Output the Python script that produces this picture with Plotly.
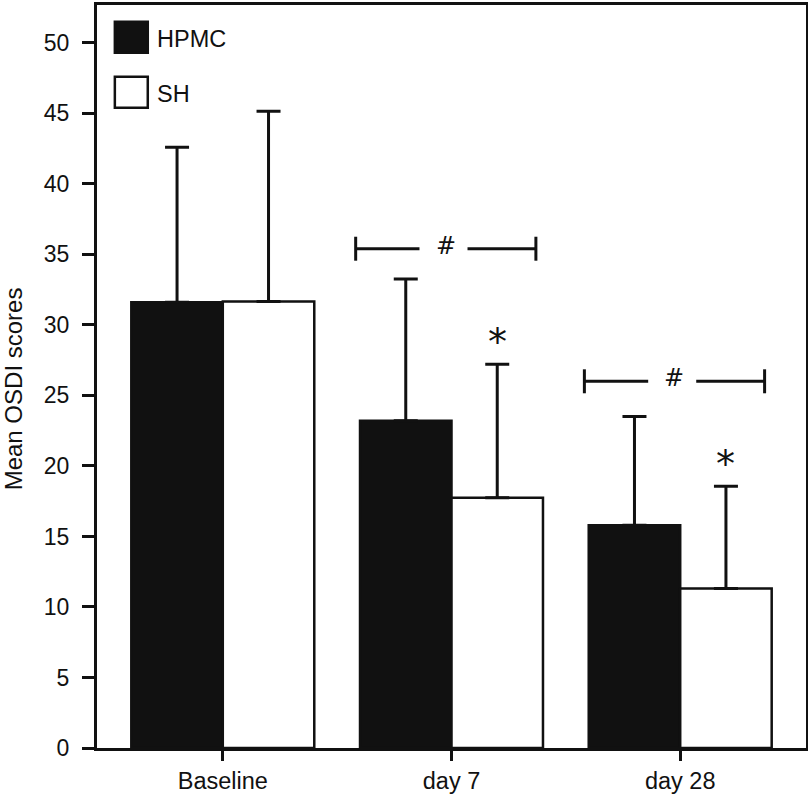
import plotly.graph_objects as go

# ---- data ----
categories = ["Baseline", "day 7", "day 28"]
hpmc_mean = [31.6, 23.2, 15.8]
hpmc_err = [11.0, 10.05, 7.7]
sh_mean = [31.65, 17.75, 11.3]
sh_err = [13.5, 9.45, 7.25]
series_names = ["HPMC", "SH"]
y_ticks = [0, 5, 10, 15, 20, 25, 30, 35, 40, 45, 50]
bracket_cats = [1, 2]          # categories with "#" brackets
bracket_y = [35.4, 26.0]
star_cats = [1, 2]             # SH bars with "*"
star_offset = -0.1

FONT = "Liberation Sans, Arial, Helvetica, sans-serif"
x_pos = list(range(len(categories)))

fig = go.Figure()
fig.add_trace(go.Bar(
    x=x_pos, y=hpmc_mean, name=series_names[0], showlegend=False,
    marker=dict(color="#111111", line=dict(color="#111111", width=2.5)),
    error_y=dict(type="data", symmetric=False, array=hpmc_err,
                 arrayminus=[0] * 3, color="#111111", thickness=3, width=12),
))
fig.add_trace(go.Bar(
    x=x_pos, y=sh_mean, name=series_names[1], showlegend=False,
    marker=dict(color="white", line=dict(color="#111111", width=2.5)),
    error_y=dict(type="data", symmetric=False, array=sh_err,
                 arrayminus=[0] * 3, color="#111111", thickness=3, width=12),
))

shapes = []
annotations = []
# significance brackets
half_w = 0.394
gap_l, gap_r = 0.115, 0.095
cap_h = 0.85
for c, yv in zip(bracket_cats, bracket_y):
    cx = c - 0.025
    line = dict(color="#111111", width=3)
    shapes.append(dict(type="line", xref="x", yref="y", x0=cx - half_w, x1=cx - gap_l, y0=yv, y1=yv, line=line))
    shapes.append(dict(type="line", xref="x", yref="y", x0=cx + gap_r, x1=cx + half_w, y0=yv, y1=yv, line=line))
    shapes.append(dict(type="line", xref="x", yref="y", x0=cx - half_w, x1=cx - half_w, y0=yv - cap_h, y1=yv + cap_h, line=line))
    shapes.append(dict(type="line", xref="x", yref="y", x0=cx + half_w, x1=cx + half_w, y0=yv - cap_h, y1=yv + cap_h, line=line))
    annotations.append(dict(x=cx, y=yv + 0.2, xref="x", yref="y", text="#", showarrow=False,
                            font=dict(family="DejaVu Sans", size=24, color="#111111")))

# asterisks over SH bars
for c in star_cats:
    annotations.append(dict(x=c + 0.2, y=sh_mean[c] + sh_err[c] + star_offset, xref="x", yref="y",
                            text="*", showarrow=False, yanchor="bottom",
                            font=dict(family="DejaVu Sans", size=38, color="#111111")))

# legend drawn manually (large squares)
leg_x0, leg_x1 = -0.472, -0.328
leg_rows = [(51.5, 49.3, "#111111"), (47.6, 45.4, "white")]
for (ya, yb, col), name in zip(leg_rows, series_names):
    shapes.append(dict(type="rect", xref="x", yref="y", x0=leg_x0, x1=leg_x1, y0=yb, y1=ya,
                       fillcolor=col, line=dict(color="#111111", width=2.5)))
    annotations.append(dict(x=leg_x1 + 0.03, y=(ya + yb) / 2, xref="x", yref="y", text=name,
                            showarrow=False, xanchor="left", yshift=-2,
                            font=dict(family=FONT, size=23.5, color="#111111")))

# y-axis title
annotations.append(dict(x=-0.1185, y=25.5, xref="paper", yref="y", text="Mean OSDI scores",
                        textangle=-90, showarrow=False, xanchor="center", yanchor="middle",
                        font=dict(family=FONT, size=24, color="#111111")))

fig.update_layout(
    width=808, height=794,
    margin=dict(l=97, r=2, t=5, b=46),
    paper_bgcolor="white", plot_bgcolor="white",
    barmode="group", bargap=0.2, bargroupgap=0,
    shapes=shapes, annotations=annotations,
    font=dict(family=FONT, size=22, color="#111111"),
)
fig.update_xaxes(
    range=[-0.55, 2.55], tickvals=x_pos, ticktext=categories,
    showline=True, linecolor="#111111", linewidth=3, mirror=True,
    ticks="outside", ticklen=10, tickwidth=3, tickcolor="#111111",
    tickfont=dict(family=FONT, size=23.5), showgrid=False, zeroline=False,
    automargin=False, ticklabelstandoff=0,
)
fig.update_yaxes(
    range=[0, 52.68], tickvals=y_ticks,
    showline=True, linecolor="#111111", linewidth=3, mirror=True,
    ticks="outside", ticklen=12, tickwidth=3, tickcolor="#111111",
    tickfont=dict(family=FONT, size=23), showgrid=False, zeroline=False,
    ticklabelstandoff=8, automargin=False,
)

fig.write_html("out.html", post_script="document.body.style.margin='0';",
               config={"displayModeBar": False})
